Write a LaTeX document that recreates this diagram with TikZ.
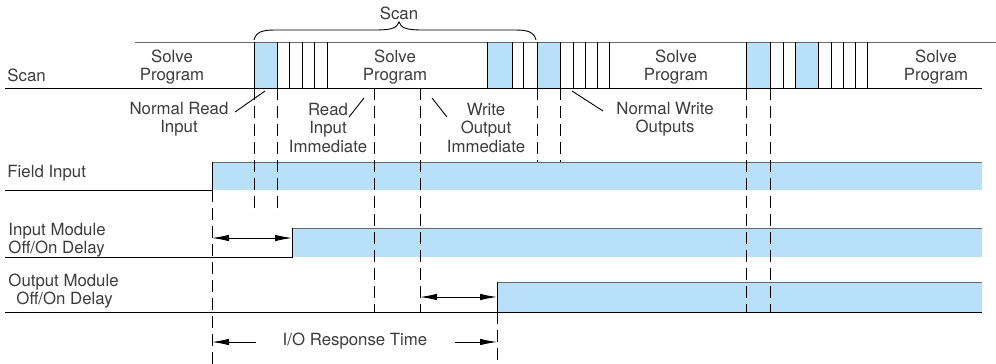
\documentclass[tikz,border=0pt]{standalone}
\usepackage{fontspec}
\setmainfont{TeX Gyre Heros}
\usetikzlibrary{arrows.meta}
\definecolor{scanblue}{RGB}{184,224,248}
\definecolor{edgegray}{RGB}{105,105,105}
\definecolor{txt}{RGB}{60,60,60}

\begin{document}
\begin{tikzpicture}[x=1pt,y=-1pt,line width=0.9pt,>={Latex[length=17pt,width=6.5pt]},
        lbl/.style={font=\fontsize{16.8}{18.5}\selectfont,text=txt,inner sep=0pt,align=center},
        leftlbl/.style={lbl,anchor=west,align=left},
        guide/.style={dash pattern=on 12pt off 6pt},
        band/.style={fill=scanblue,draw=none}]
    \useasboundingbox (0,0) rectangle (996,364);

    % scan line
    \foreach \a/\b in {254/277,487/512,537/560,746/770,795/818}
        \path[band] (\a,42) rectangle (\b,88);
    \draw[edgegray] (135,42) -- (996,42);
    \draw (5,88) -- (982,88);
    \foreach \x in {254,277,289,302,314,327,487,512,523,537,560,573,585,597,609,746,770,783,795,818,831,843,855,867}
        \draw (\x,42) -- (\x,88);

    \draw (254,40) .. controls (256,32) and (262,30) .. (275,30) -- (375,30) .. controls (392,30) and (397,28) .. (399,22)
          .. controls (401,28) and (406,30) .. (423,30) -- (515,30) .. controls (528,30) and (534,32) .. (536,40);
    \node[lbl] (scantop) at (399,13) {Scan};

    \node[leftlbl] (scanlbl) at (7,75) {Scan};
    \node[lbl] (solve1) at (172,67) {Solve\\Program};
    \node[lbl] (solve2) at (395,67) {Solve\\Program};
    \node[lbl] (solve3) at (676,67) {Solve\\Program};
    \node[lbl] (solve4) at (936,67) {Solve\\Program};

    % signals
    \path[band] (212,162) rectangle (982,190);
    \draw[edgegray] (212,162) -- (982,162);
    \draw (5,190) -- (212,190) -- (212,162);

    \path[band] (292,228) rectangle (982,257);
    \draw[edgegray] (292,228) -- (982,228);
    \draw (5,257) -- (292,257) -- (292,228);

    \path[band] (497,282) rectangle (982,312);
    \draw[edgegray] (497,282) -- (982,282);
    \draw (5,312) -- (982,312);
    \draw (497,312) -- (497,282);

    \node[leftlbl] (field) at (7,173) {Field Input};
    \node[leftlbl] (inmod) at (8,240) {Input Module\\Off/On Delay};
    \node[leftlbl] (outmod) at (8,291) {Output Module\\\hspace*{8pt}Off/On Delay};

    % timing marks
    \draw[guide] (212,190) -- (212,364);
    \draw[guide] (254,88) -- (254,214);
    \draw[guide] (277,88) -- (277,214);
    \draw[guide] (374,88) -- (374,312);
    \draw[guide] (420,88) -- (420,312);
    \draw[guide] (537,88) -- (537,162);
    \draw[guide] (560,88) -- (560,162);
    \draw[guide] (746,88) -- (746,312);
    \draw[guide] (770,88) -- (770,312);
    \draw[guide] (497,312) -- (497,364);

    \node[lbl] (nread) at (179,119) {Normal Read\\Input};
    \node[lbl] (rdimm) at (328,128) {Read\\Input\\Immediate};
    \node[lbl] (wrimm) at (486,128) {Write\\Output\\Immediate};
    \node[lbl] (nwrite) at (665,119) {Normal Write\\Outputs};
    \draw (235,112) -- (265,91);
    \draw (349,117) -- (364,98);
    \draw (432,98) -- (447,117);
    \draw (572,91) -- (603,111);

    \coordinate (inA) at (212,238);
    \coordinate (inB) at (292,238);
    \draw[<->] (inA) -- (inB);
    \coordinate (outA) at (420,297);
    \coordinate (outB) at (497,297);
    \draw[<->] (outA) -- (outB);

    \node[lbl] (resp) at (355,341) {I/O Response Time};
    \coordinate (respA) at (212,342);
    \coordinate (respB) at (497,342);
    \draw[->] ([xshift=-26pt]resp.west |- respA) -- (respA);
    \draw[->] ([xshift=27pt]resp.east |- respB) -- (respB);
\end{tikzpicture}
\end{document}
